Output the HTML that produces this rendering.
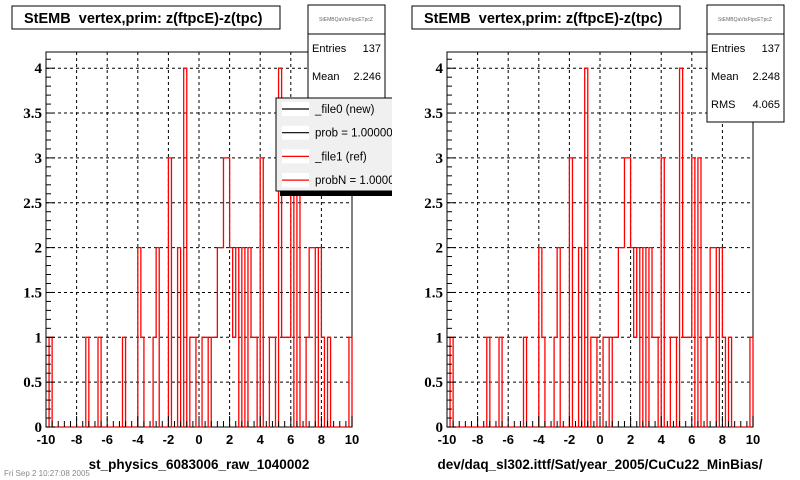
<!DOCTYPE html>
<html><head><meta charset="utf-8"><style>
html,body{margin:0;padding:0;background:#fff;}
svg{display:block;font-family:"Liberation Sans",sans-serif;}
</style></head><body>
<svg id="c" width="800" height="480" viewBox="0 0 800 480"></svg>
<script>
// bin indices (0..99, width 0.2 from -10) and counts
const binIndex = [1,13,17,25,30,31,35,36,40,43,45,47,48,51,52,54,55,56,57,58,59,60,61,62,64,66,67,68,70,73,74,76,77,78,79,80,82,85,86,87,89,90,92,99];
const binCount = [1,1,1,1,2,1,1,2,3,2,4,1,1,1,1,1,1,2,2,3,3,2,1,2,2,2,1,1,3,1,1,4,1,1,1,3,3,1,2,2,2,1,1,1];
const xTicks = [-10,-8,-6,-4,-2,0,2,4,6,8,10];
const yTicks = [0,0.5,1,1.5,2,2.5,3,3.5,4];
const yTickLabels = ["0","0.5","1","1.5","2","2.5","3","3.5","4"];
const statsLeft = [["Entries","137"],["Mean","2.246"],["RMS","4.065"]];
const statsRight = [["Entries","137"],["Mean","2.248"],["RMS","4.065"]];
const legendLabels = ["_file0 (new)","prob = 1.000000","_file1 (ref)","probN = 1.000000"];
const legendColors = ["#000","#000","#f00","#f00"];

const NS="http://www.w3.org/2000/svg";
const svg=document.getElementById('c');
function mk(tag,attrs,parent,txt){const e=document.createElementNS(NS,tag);for(const k in attrs)e.setAttribute(k,attrs[k]);if(txt!==undefined)e.textContent=txt;(parent||svg).appendChild(e);return e;}

const counts=new Array(100).fill(0);
binIndex.forEach((b,i)=>counts[b]=binCount[i]);

function panel(x0,x1,titleX,statsX,stats,xtitle,name){
  const g=mk('g',{});
  
  
  const yTop=52,yBot=427,yScale=89.7;
  const X=v=>x0+(v+10)/20*(x1-x0);
  const Y=v=>yBot-v*yScale;
  mk('rect',{x:x0,y:yTop,width:x1-x0,height:yBot-yTop,fill:'#fff',stroke:'#000','stroke-width':1},g);
  const grid=mk('g',{stroke:'#000','stroke-width':1,'stroke-dasharray':'3,3'},g);
  
  xTicks.forEach(v=>{if(v>-10&&v<10){mk('line',{x1:X(v),x2:X(v),y1:yTop,y2:yBot},grid);}});
  yTicks.forEach(v=>{if(v>0){mk('line',{x1:x0,x2:x1,y1:Y(v),y2:Y(v)},grid);}});
  let d='M'+X(-10)+','+Y(0);
  for(let i=0;i<100;i++){const xa=X(-10+i*0.2),xb=X(-10+(i+1)*0.2);d+=' L'+xa+','+Y(counts[i])+' L'+xb+','+Y(counts[i]);}
  d+=' L'+X(10)+','+Y(0);
  const h=mk('path',{d:d,fill:'none',stroke:'#f00','stroke-width':1.3},g);
  
  
  const tk=mk('g',{stroke:'#000','stroke-width':1},g);
  
  for(let v=-10;v<=10.001;v+=0.4){const maj=Math.abs(v/2-Math.round(v/2))<0.01;mk('line',{x1:X(v),x2:X(v),y1:yBot,y2:yBot-(maj?11:6)},tk);}
  for(let k=0;k<=41;k++){const v=k*0.1;const maj=k%5==0;mk('line',{x1:x0,x2:x0+(maj?9:5),y1:Y(v),y2:Y(v)},tk);}
  xTicks.forEach(v=>{const t=mk('text',{x:X(v),y:444,'font-size':13,'font-weight':'bold','text-anchor':'middle'},g,String(v));});
  yTicks.forEach((v,i)=>{const t=mk('text',{x:x0-4,y:Y(v)+5,'font-size':15,'font-weight':'bold','text-anchor':'end','font-family':'"Liberation Serif",serif'},g,yTickLabels[i]);});
  const xt=mk('text',{x:(x0+x1)/2,y:469,'font-size':13.5,'font-weight':'bold','text-anchor':'middle'},g,xtitle);
  
  const tg=mk('g',{},g);
  mk('rect',{x:titleX,y:6,width:268,height:23,fill:'#fff',stroke:'#000'},tg);
  mk('text',{x:titleX+12,y:23,'font-size':14.5,'font-weight':'bold'},tg,'StEMB\u00a0 vertex,prim: z(ftpcE)-z(tpc)');
  const sg=mk('g',{},g);
  mk('rect',{x:statsX,y:5,width:77,height:117,fill:'#fff',stroke:'#000'},sg);
  mk('line',{x1:statsX,x2:statsX+77,y1:34,y2:34,stroke:'#000'},sg);
  mk('text',{x:statsX+38,y:21,'font-size':5,'text-anchor':'middle',fill:'#666'},sg,'StEMBQaVtxFtpcETpcZ');
  stats.forEach((s,i)=>{const yy=52+i*28;mk('text',{x:statsX+4,y:yy,'font-size':11},sg,s[0]);mk('text',{x:statsX+73,y:yy,'font-size':11,'text-anchor':'end'},sg,s[1]);});
}
panel(46,352,12,308,statsLeft,'st_physics_6083006_raw_1040002','left-panel');
panel(447,753,412,707,statsRight,'dev/daq_sl302.ittf/Sat/year_2005/CuCu22_MinBias/','right-panel');

mk('clipPath',{id:'padclip'},svg);
mk('rect',{x:0,y:0,width:392,height:480},document.getElementById('padclip'));
const lg=mk('g',{'clip-path':'url(#padclip)'});


mk('rect',{x:280,y:102,width:120,height:94,fill:'#000'},lg);
mk('rect',{x:276,y:98,width:120,height:93,fill:'#f0f0f0',stroke:'#000'},lg);
legendLabels.forEach((l,i)=>{const yy=109+i*23.7;
  const e=mk('g',{},lg);
  mk('rect',{x:282,y:yy-7,width:27,height:14,fill:'#fff'},e);
  mk('line',{x1:282,x2:309,y1:yy,y2:yy,stroke:legendColors[i],'stroke-width':1.2},e);
  mk('text',{x:315,y:yy+4,'font-size':11.5},e,l);
});
const dt=mk('text',{x:4,y:476,'font-size':8,fill:'#888'},svg,'Fri Sep  2 10:27:08 2005');

</script>
</body></html>
